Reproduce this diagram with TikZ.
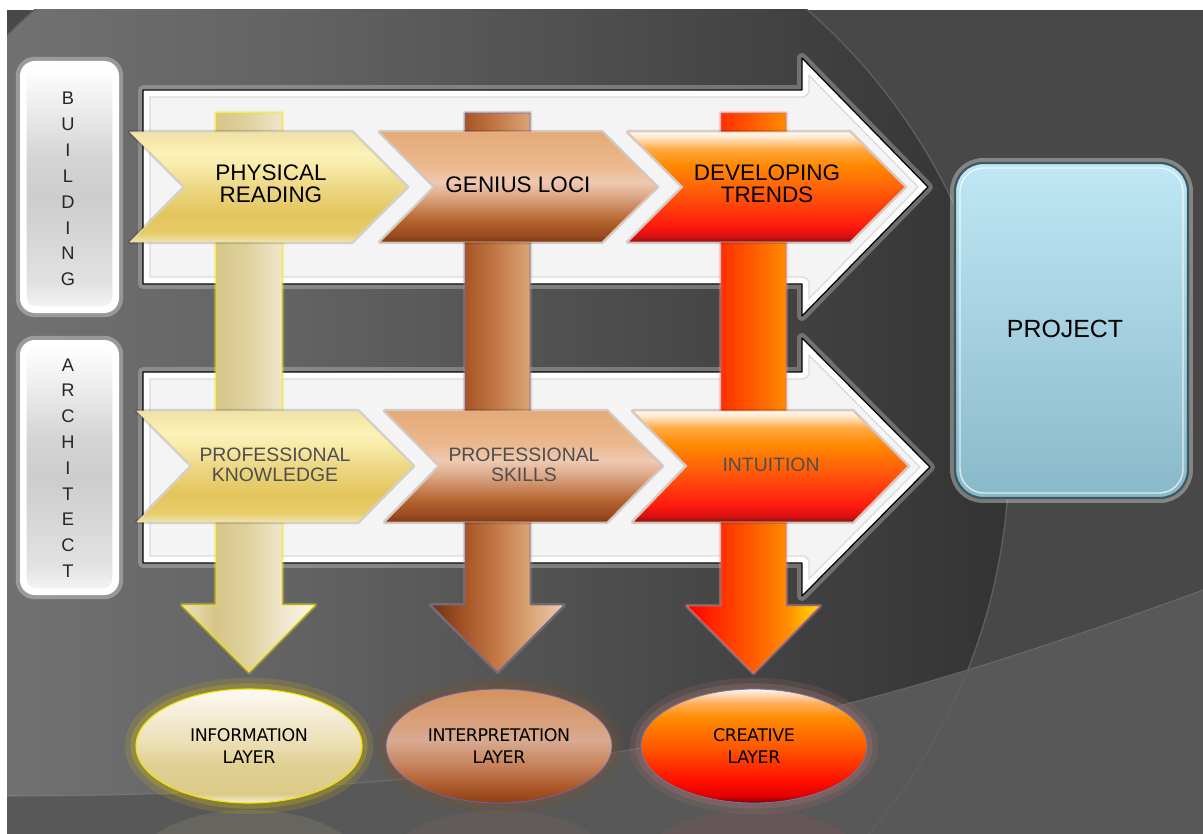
\documentclass[tikz,border=0pt]{standalone}
\usepackage{fontspec}
\setmainfont{Liberation Sans}
\newfontfamily\ellfont[LetterSpace=-2.5]{DejaVu Sans}
\usetikzlibrary{shapes.geometric}

% ---------- colours ----------
\definecolor{bgA}{HTML}{7A7A7A}\definecolor{bgB}{HTML}{626262}
\definecolor{bgC}{HTML}{464646}\definecolor{bgD}{HTML}{333333}
\definecolor{bgRight}{HTML}{484848}\definecolor{bgBand}{HTML}{585858}
\definecolor{arcline}{HTML}{5E5E5E}
\definecolor{arrowfill}{HTML}{F4F4F4}\definecolor{bevelgray}{HTML}{DADADA}
\definecolor{glowgray}{HTML}{D0D0D0}
\definecolor{txtgray}{HTML}{4E4E4E}
% gold chevron
\definecolor{gA}{HTML}{F2E6B2}\definecolor{gB}{HTML}{E6CC6A}\definecolor{gC}{HTML}{E3C55C}
\definecolor{gD}{HTML}{ECD785}\definecolor{gE}{HTML}{F8ECAA}\definecolor{gF}{HTML}{FCF2B9}
\definecolor{gG}{HTML}{F6E8A8}\definecolor{gH}{HTML}{F0E2AA}
% brown chevron
\definecolor{bA}{HTML}{7A3A18}\definecolor{bB}{HTML}{9A4A20}\definecolor{bC}{HTML}{B5652F}
\definecolor{bD}{HTML}{DDA888}\definecolor{bE}{HTML}{EFC9B2}\definecolor{bF}{HTML}{EBB88E}
\definecolor{bG}{HTML}{E5AA78}
% red chevron
\definecolor{rA}{HTML}{7E1414}\definecolor{rB}{HTML}{D81010}\definecolor{rC}{HTML}{FF1A0E}
\definecolor{rD}{HTML}{FF5A0A}\definecolor{rE}{HTML}{FF8A00}\definecolor{rF}{HTML}{FFAA44}
\definecolor{rG}{HTML}{FFE6C8}\definecolor{rH}{HTML}{FFF8F0}
% columns
\definecolor{cgA}{HTML}{ECE2BE}\definecolor{cgB}{HTML}{D7C587}\definecolor{cgC}{HTML}{E0D2A0}
\definecolor{cgD}{HTML}{EFE7CC}\definecolor{cgE}{HTML}{FAF6EA}
\definecolor{cbA}{HTML}{6E3214}\definecolor{cbB}{HTML}{A65426}\definecolor{cbC}{HTML}{C47A48}
\definecolor{cbD}{HTML}{DAA678}\definecolor{cbE}{HTML}{ECCAB0}
\definecolor{crA}{HTML}{FF0000}\definecolor{crB}{HTML}{FF3000}\definecolor{crC}{HTML}{FF5C00}
\definecolor{crD}{HTML}{FF8C00}\definecolor{crE}{HTML}{FFE000}
% ellipses
\definecolor{egA}{HTML}{F6F0DA}\definecolor{egB}{HTML}{DCCA86}\definecolor{egC}{HTML}{E2D196}
\definecolor{egD}{HTML}{ECE0B8}\definecolor{egE}{HTML}{FCFAF2}
\definecolor{ebA}{HTML}{8A4018}\definecolor{ebB}{HTML}{A85426}\definecolor{ebC}{HTML}{C88660}
\definecolor{ebD}{HTML}{D8AA92}\definecolor{ebE}{HTML}{D8A07C}\definecolor{ebF}{HTML}{D4935E}
\definecolor{erA}{HTML}{7A0010}\definecolor{erB}{HTML}{E00000}\definecolor{erC}{HTML}{FF1000}
\definecolor{erD}{HTML}{FF5A00}\definecolor{erE}{HTML}{FF8C00}\definecolor{erF}{HTML}{FFB060}
\definecolor{erG}{HTML}{FFF4EC}
% side boxes, project
\definecolor{sA}{HTML}{F4F4F4}\definecolor{sB}{HTML}{E2E2E2}\definecolor{sC}{HTML}{CDCDCD}
\definecolor{sD}{HTML}{D4D4D4}\definecolor{sE}{HTML}{EFEFEF}\definecolor{sF}{HTML}{FFFFFF}
\definecolor{pTop}{HTML}{BFE7F5}\definecolor{pBot}{HTML}{89B9C9}\definecolor{pEdge}{HTML}{3C5863}
% borders and glows
\definecolor{colGoldEdge}{HTML}{F5E600}\definecolor{colGoldGlow}{HTML}{F0E13C}
\definecolor{colBrownEdge}{HTML}{7868A8}\definecolor{colBrownGlow}{HTML}{AA9678}
\definecolor{colRedEdge}{HTML}{C87882}\definecolor{colRedGlow}{HTML}{F09696}
\definecolor{chGoldEdge}{HTML}{DED6AA}\definecolor{chBrownEdge}{HTML}{E2BEA0}
\definecolor{chRedEdge}{HTML}{E6BEAA}
\definecolor{elGoldEdge}{HTML}{F0E400}\definecolor{elGoldGlow}{HTML}{C8B41E}
\definecolor{elBrownEdge}{HTML}{7060A8}\definecolor{elBrownGlow}{HTML}{785532}
\definecolor{elRedEdge}{HTML}{6E78A0}\definecolor{elRedGlow}{HTML}{AA7373}
\definecolor{reflGold}{HTML}{E8DCA8}\definecolor{reflBrown}{HTML}{D09070}\definecolor{reflRed}{HTML}{FF5050}

% ---------- shadings (interesting part 25bp..75bp) ----------
\pgfdeclarehorizontalshading{bgsh}{100bp}{color(0bp)=(bgA); color(25bp)=(bgA); color(45bp)=(bgB); color(62.5bp)=(bgC); color(75bp)=(bgD); color(100bp)=(bgD)}
\pgfdeclareverticalshading{goldchev}{100bp}{color(0bp)=(gA); color(25bp)=(gA); color(29bp)=(gB); color(37.5bp)=(gC); color(50bp)=(gD); color(60bp)=(gE); color(65bp)=(gF); color(71bp)=(gG); color(75bp)=(gH); color(100bp)=(gH)}
\pgfdeclareverticalshading{brownchev}{100bp}{color(0bp)=(bA); color(25bp)=(bA); color(28bp)=(bB); color(35bp)=(bC); color(46bp)=(bD); color(52.5bp)=(bE); color(60bp)=(bF); color(75bp)=(bG); color(100bp)=(bG)}
\pgfdeclareverticalshading{redchev}{100bp}{color(0bp)=(rA); color(25bp)=(rA); color(27.5bp)=(rB); color(32.5bp)=(rC); color(47.5bp)=(rD); color(60bp)=(rE); color(67.5bp)=(rF); color(72.5bp)=(rG); color(75bp)=(rH); color(100bp)=(rH)}
\pgfdeclarehorizontalshading{goldcol}{100bp}{color(0bp)=(cgA); color(25bp)=(cgA); color(37.5bp)=(cgB); color(50bp)=(cgC); color(62.5bp)=(cgD); color(75bp)=(cgE); color(100bp)=(cgE)}
\pgfdeclarehorizontalshading{browncol}{100bp}{color(0bp)=(cbA); color(25bp)=(cbA); color(37.5bp)=(cbB); color(50bp)=(cbC); color(62.5bp)=(cbD); color(75bp)=(cbE); color(100bp)=(cbE)}
\pgfdeclarehorizontalshading{redcol}{100bp}{color(0bp)=(crA); color(25bp)=(crA); color(37.5bp)=(crB); color(50bp)=(crC); color(62.5bp)=(crD); color(75bp)=(crE); color(100bp)=(crE)}
\pgfdeclareverticalshading{goldell}{100bp}{color(0bp)=(egA); color(25bp)=(egA); color(29bp)=(egB); color(42.5bp)=(egC); color(52.5bp)=(egD); color(75bp)=(egE); color(100bp)=(egE)}
\pgfdeclareverticalshading{brownell}{100bp}{color(0bp)=(ebA); color(25bp)=(ebA); color(31bp)=(ebB); color(42.5bp)=(ebC); color(52.5bp)=(ebD); color(60bp)=(ebE); color(75bp)=(ebF); color(100bp)=(ebF)}
\pgfdeclareverticalshading{redell}{100bp}{color(0bp)=(erA); color(25bp)=(erA); color(28bp)=(erB); color(35bp)=(erC); color(50bp)=(erD); color(62.5bp)=(erE); color(69bp)=(erF); color(75bp)=(erG); color(100bp)=(erG)}
\pgfdeclareverticalshading{sidesh}{100bp}{color(0bp)=(sA); color(25bp)=(sA); color(30bp)=(sB); color(47.5bp)=(sC); color(56bp)=(sD); color(67.5bp)=(sE); color(75bp)=(sF); color(100bp)=(sF)}

\tikzset{
  bigarrow/.style={fill=arrowfill, preaction={draw=glowgray, line width=7pt, draw opacity=0.35}},
  chevbox/.style={line width=0.6pt, preaction={draw=black, line width=3pt, draw opacity=0.15}},
  colarrow/.style={line width=0.6pt, preaction={draw=#1, line width=3pt, draw opacity=0.35}},
  ellglow/.style={preaction={draw=#1, line width=16pt, draw opacity=0.18}, preaction={draw=#1, line width=8pt, draw opacity=0.3}},
  lblA/.style={font=\fontsize{16}{15.5}\selectfont, align=center, text=black, inner sep=0pt},
  lblB/.style={font=\fontsize{13.8}{14.2}\selectfont, align=center, text=txtgray, inner sep=0pt},
  lblC/.style={font=\ellfont\fontsize{12.4}{15.6}\selectfont, align=center, text=black, inner sep=0pt},
  sidelbl/.style={font=\fontsize{13}{18.4}\selectfont, align=center, text=black!85, inner sep=0pt},
  sidebox/.style={fill=white, rounded corners=10.6pt, preaction={draw=white, line width=6pt, draw opacity=0.3}},
  sideinner/.style={shading=sidesh, rounded corners=7pt, draw=white, line width=1pt},
}

\begin{document}
\begin{tikzpicture}[x=0.025cm, y=-0.025cm, line join=round]
\useasboundingbox (0,0) rectangle (1203,834);
\fill[white] (0,0) rectangle (1203,834);

% ---------- background ----------
\begin{scope}
  \clip (7,10) rectangle (1203,834);
  \fill[bgRight] (7,10) rectangle (1203,834);
  \shade[shading=bgsh] (421,453) circle (588);
  \fill[bgBand] (7,796) .. controls (600,796) and (900,700) .. (1203,590) -- (1203,834) -- (7,834) -- cycle;
  \draw[white, line width=0.8pt, opacity=0.12] (7,796) .. controls (600,796) and (900,700) .. (1203,590);
  \draw[arcline, line width=1pt] (421,453) circle (588);
\end{scope}

% ---------- side boxes ----------
\path[sidebox] (20,61) rectangle (119,313);
\shadedraw[sideinner] (26,67) rectangle (113,307);
\path[sidebox] (20,340) rectangle (119,595);
\shadedraw[sideinner] (26,346) rectangle (113,589);

% ---------- big white arrows ----------
\path[bigarrow] (143,90) -- (802,90) -- (802,58) -- (928,187) -- (802,316) -- (802,284) -- (143,284) -- cycle;
\begin{scope}
  \clip (143,90) -- (802,90) -- (802,58) -- (928,187) -- (802,316) -- (802,284) -- (143,284) -- cycle;
  \draw[bevelgray, line width=11pt] (143,90) -- (802,90) -- (802,58) -- (928,187) -- (802,316) -- (802,284) -- (143,284) -- cycle;
  \draw[white, line width=9pt] (143,90) -- (802,90) -- (802,58) -- (928,187) -- (802,316) -- (802,284) -- (143,284) -- cycle;
\end{scope}
\draw[black, line width=0.9pt] (143,90) -- (802,90) -- (802,58) -- (928,187) -- (802,316) -- (802,284) -- (143,284) -- cycle;

\path[bigarrow] (143,372) -- (802,372) -- (802,338) -- (930,467) -- (802,596) -- (802,563) -- (143,563) -- cycle;
\begin{scope}
  \clip (143,372) -- (802,372) -- (802,338) -- (930,467) -- (802,596) -- (802,563) -- (143,563) -- cycle;
  \draw[bevelgray, line width=11pt] (143,372) -- (802,372) -- (802,338) -- (930,467) -- (802,596) -- (802,563) -- (143,563) -- cycle;
  \draw[white, line width=9pt] (143,372) -- (802,372) -- (802,338) -- (930,467) -- (802,596) -- (802,563) -- (143,563) -- cycle;
\end{scope}
\draw[black, line width=0.9pt] (143,372) -- (802,372) -- (802,338) -- (930,467) -- (802,596) -- (802,563) -- (143,563) -- cycle;

% ---------- vertical layer arrows ----------
\shadedraw[shading=goldcol, draw=colGoldEdge, colarrow=colGoldGlow]
  (216,113) -- (282,113) -- (282,605) -- (315,605) -- (249,672) -- (182,605) -- (216,605) -- cycle;
\shadedraw[shading=browncol, draw=colBrownEdge, colarrow=colBrownGlow]
  (465,113) -- (530,113) -- (530,605) -- (564,605) -- (497.5,672) -- (431,605) -- (465,605) -- cycle;
\shadedraw[shading=redcol, draw=colRedEdge, colarrow=colRedGlow]
  (721,113) -- (786,113) -- (786,606) -- (820,606) -- (753.5,673) -- (687,606) -- (721,606) -- cycle;

% ---------- chevrons ----------
\shadedraw[shading=goldchev, chevbox, draw=chGoldEdge]
  (130,132) -- (352,132) -- (407,187) -- (352,242) -- (130,242) -- (185,187) -- cycle;
\shadedraw[shading=brownchev, chevbox, draw=chBrownEdge]
  (380,132) -- (602,132) -- (657,187) -- (602,242) -- (380,242) -- (435,187) -- cycle;
\shadedraw[shading=redchev, chevbox, draw=chRedEdge]
  (628,132) -- (850,132) -- (905,187) -- (850,242) -- (628,242) -- (683,187) -- cycle;

\shadedraw[shading=goldchev, chevbox, draw=chGoldEdge]
  (137,411) -- (358,411) -- (413,466) -- (358,522) -- (137,522) -- (192,466) -- cycle;
\shadedraw[shading=brownchev, chevbox, draw=chBrownEdge]
  (385,411) -- (607,411) -- (662,466) -- (607,522) -- (385,522) -- (440,466) -- cycle;
\shadedraw[shading=redchev, chevbox, draw=chRedEdge]
  (633,411) -- (853,411) -- (908,466) -- (853,522) -- (633,522) -- (687,466) -- cycle;

% ---------- ellipses ----------
\fill[reflGold, opacity=0.10] (249,862) ellipse [x radius=110, y radius=52];
\fill[reflBrown, opacity=0.08] (499,862) ellipse [x radius=110, y radius=52];
\fill[reflRed, opacity=0.08] (754,862) ellipse [x radius=110, y radius=52];

\shadedraw[shading=goldell, draw=elGoldEdge, line width=0.8pt, ellglow=elGoldGlow]
  (249,746) ellipse [x radius=113, y radius=57];
\shadedraw[shading=brownell, draw=elBrownEdge, line width=0.6pt, ellglow=elBrownGlow]
  (499,746) ellipse [x radius=113, y radius=57];
\shadedraw[shading=redell, draw=elRedEdge, line width=0.6pt, ellglow=elRedGlow]
  (754,746) ellipse [x radius=113, y radius=57];

% ---------- project box ----------
\shadedraw[top color=pTop, bottom color=pBot, draw=pEdge, line width=1.6pt, rounded corners=20pt,
  preaction={draw=glowgray, line width=7pt, draw opacity=0.45}]
  (955,163) rectangle (1188,498);
\draw[white, opacity=0.7, line width=1pt, rounded corners=17pt] (960,168) rectangle (1183,493);

% ---------- texts ----------
\node[sidelbl] (building) at (68,189) {B\\U\\I\\L\\D\\I\\N\\G};
\node[sidelbl, font=\fontsize{13}{18.35}\selectfont] (architect) at (68,468) {A\\R\\C\\H\\I\\T\\E\\C\\T};

\node[lblA] (physical) at (271,184) {PHYSICAL\\READING};
\node[lblA] (genius) at (518,185) {GENIUS LOCI};
\node[lblA] (trends) at (767,184) {DEVELOPING\\TRENDS};

\node[lblB] (knowledge) at (275,465) {PROFESSIONAL\\KNOWLEDGE};
\node[lblB] (skills) at (524,465) {PROFESSIONAL\\SKILLS};
\node[lblB] (intuition) at (771,465) {INTUITION};

\node[lblC] (information) at (249,746) {INFORMATION\\LAYER};
\node[lblC] (interpretation) at (499,746) {INTERPRETATION\\LAYER};
\node[lblC] (creative) at (754,746) {CREATIVE\\LAYER};

\node[font=\fontsize{17.7}{20}\selectfont, text=black, inner sep=0pt] (project) at (1065,329) {PROJECT};
\end{tikzpicture}
\end{document}
